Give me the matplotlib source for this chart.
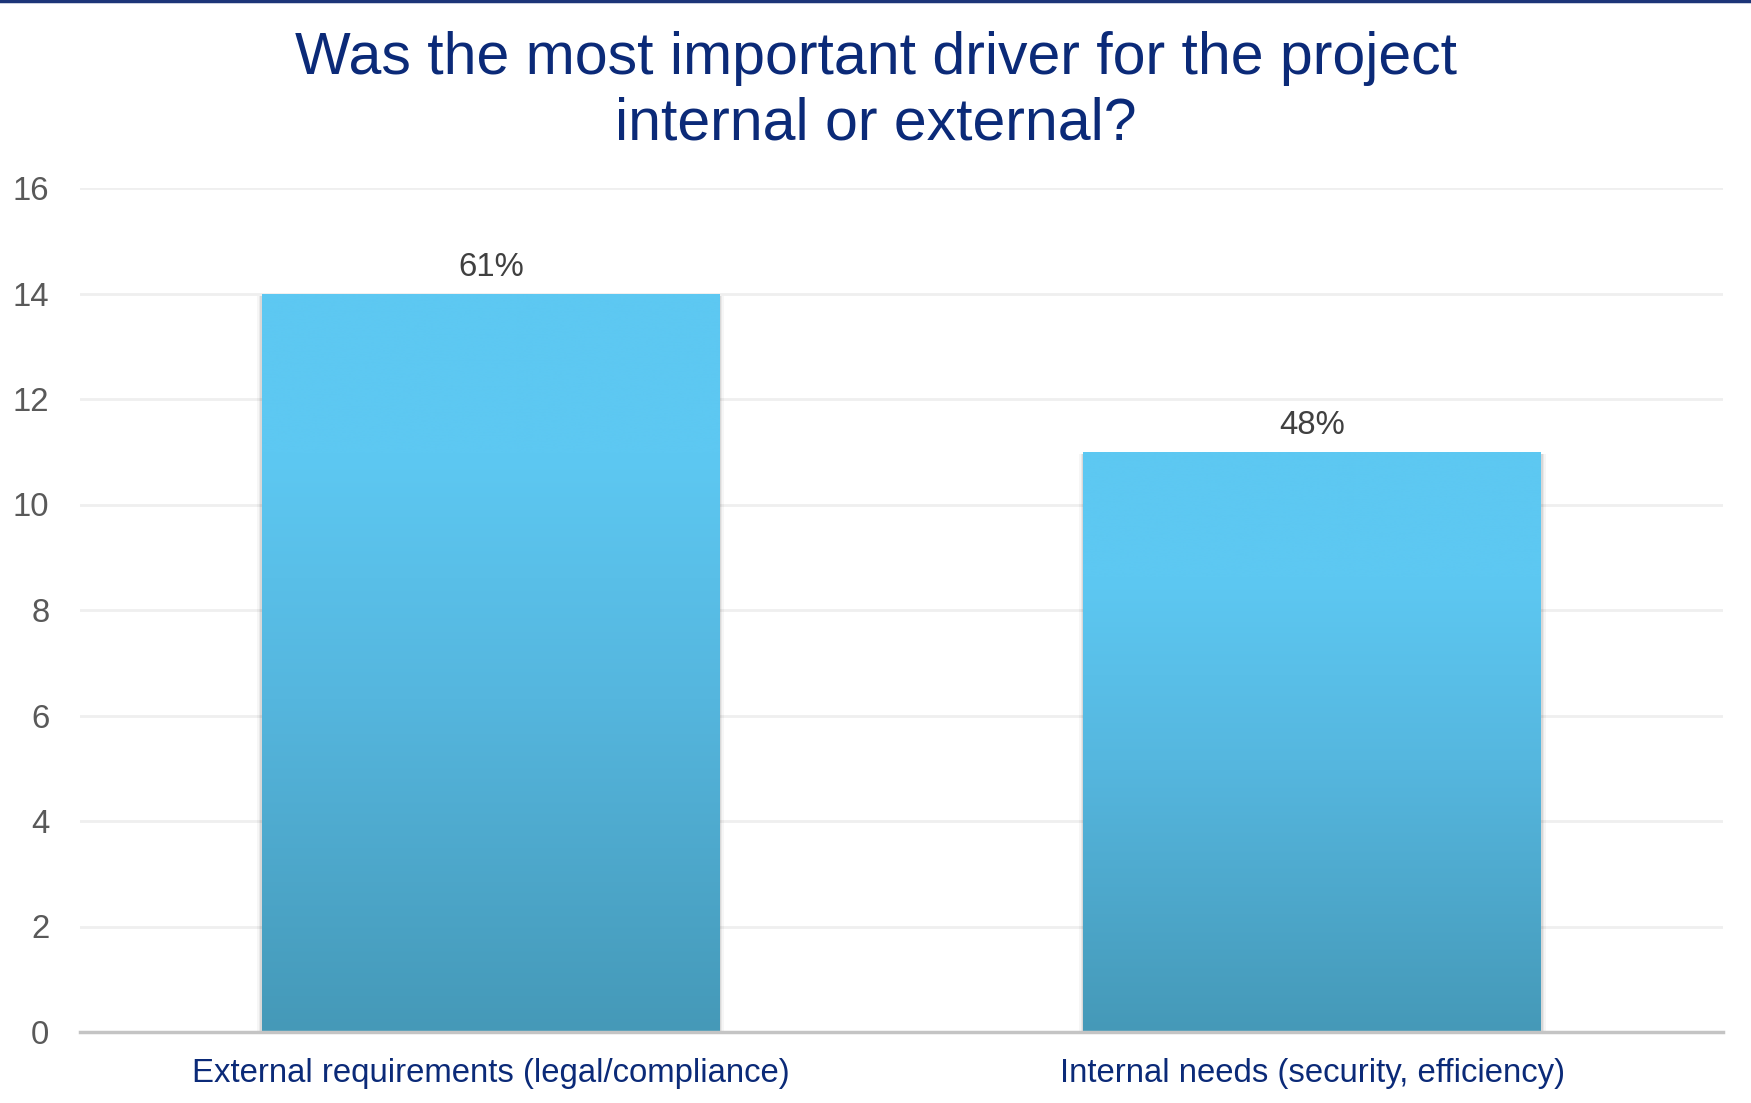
import numpy as np
import matplotlib
matplotlib.use("Agg")
import matplotlib.pyplot as plt
from matplotlib.colors import LinearSegmentedColormap
from matplotlib.patches import Rectangle

# Survey results
categories = ["External requirements (legal/compliance)",
              "Internal needs (security, efficiency)"]
counts = [14, 11]
shares = ["61%", "48%"]
y_ticks = [0, 2, 4, 6, 8, 10, 12, 14, 16]

title = "Was the most important driver for the project\ninternal or external?"

NAVY = "#0B2A78"
GREY_TXT = "#595959"
FS = 23.7
plt.rcParams["font.family"] = ["Liberation Sans", "DejaVu Sans"]

fig = plt.figure(figsize=(17.51, 11.03), dpi=100)
ax = fig.add_axes([80 / 1751, 1 - 1032 / 1103, (1723 - 80) / 1751, (1032 - 188) / 1103])

ax.set_xlim(-0.5, len(categories) - 0.5)
ax.set_ylim(0, 16)

# bar fill: light at the top, darkening toward the base
bar_cmap = LinearSegmentedColormap.from_list(
    "bar", [(0.0, "#4599B8"), (0.45, "#55B6DE"), (0.78, "#5DC8F2"), (1.0, "#5DC8F2")])
grad = np.linspace(0, 1, 256).reshape(-1, 1)

width = 0.557
for i, v in enumerate(counts):
    x0 = i - width / 2
    # soft shadow along the bar sides
    for k, a in zip([0.0055, 0.0035, 0.0018], [0.035, 0.05, 0.07]):
        ax.add_patch(Rectangle((x0 - k, 0), width + 2 * k, v - 0.05,
                               facecolor="black", edgecolor="none", alpha=a, zorder=2))
    rect = ax.bar(i, v, width=width, color="none", edgecolor="none", zorder=3)[0]
    im = ax.imshow(grad, cmap=bar_cmap, origin="lower", aspect="auto",
                   extent=(x0, x0 + width, 0, v), zorder=3, interpolation="bicubic")
    im.set_clip_path(rect)
    ax.annotate(shares[i], xy=(i, v), xytext=(0, 12.5), textcoords="offset points",
                ha="center", va="baseline", fontsize=FS, color="#404040", zorder=4)

ax.set_xlim(-0.5, len(categories) - 0.5)
ax.set_ylim(0, 16)

ax.set_yticks(y_ticks)
ax.set_yticklabels([str(t) for t in y_ticks], fontsize=FS, color=GREY_TXT)
ax.set_xticks(range(len(categories)))
ax.set_xticklabels(categories, fontsize=FS, color=NAVY)
ax.tick_params(axis="y", length=0, pad=22)
ax.tick_params(axis="x", length=0, pad=19)

ax.yaxis.grid(True, color="#EFEFEF", linewidth=2, zorder=0)
ax.set_axisbelow(True)
for side in ["top", "right", "left"]:
    ax.spines[side].set_visible(False)
ax.spines["bottom"].set_color("#C4C4C4")
ax.spines["bottom"].set_linewidth(2.5)
ax.spines["bottom"].set_zorder(5)

fig.text(0.5, 1 - 140 / 1103, title, ha="center", va="baseline",
         fontsize=42.5, color=NAVY, linespacing=1.25)

# top border line
fig.add_artist(plt.Line2D([0, 1], [1 - 1 / 1103, 1 - 1 / 1103],
                          transform=fig.transFigure, color="#1C3578", linewidth=2.5))

fig.savefig("out.png", dpi=100, facecolor="white")
